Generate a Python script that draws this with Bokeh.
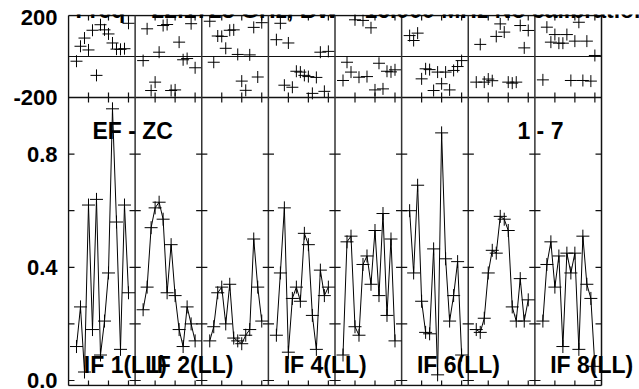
from bokeh.plotting import figure
from bokeh.models import Range1d, LinearAxis, FixedTicker, Label, ColumnDataSource
from bokeh.embed import file_html
from bokeh.resources import INLINE

# ---------------- data ----------------
channels = list(range(2, 16))
if_names = ["IF 1(LL)", "IF 2(LL)", "IF 3(LL)", "IF 4(LL)",
            "IF 5(LL)", "IF 6(LL)", "IF 7(LL)", "IF 8(LL)"]
labelled_ifs = [1, 2, 4, 6, 8]

phase_if1 = [-23, 50, 90, 32, 128, -92, 155, 130, 110, 66, 36, 35, 38, 162]
phase_if2 = [-20, 135, -166, -125, 21, 151, 156, -166, -163, 70, -16, -10, 160, -55]
phase_if3 = [172, -28, 100, 98, 40, 128, 130, 10, -120, -165, 8, 142, -100, 165]
phase_if4 = [82, 162, -140, 66, -150, -72, -76, -92, -98, -180, -102, 21, -170, 25]
phase_if5 = [-117, -28, -76, 179, -101, 176, -98, 140, -163, -33, -158, -72, -75, -65]
phase_if6 = [102, 78, 114, -109, -60, -64, -166, -76, -133, -76, -163, -68, -49, -20]
phase_if7 = [-125, 59, -125, -110, -118, 98, 159, 119, -125, -130, -125, 151, 42, 127]
phase_if8 = [-114, 143, 70, 107, 65, 65, 107, -117, 75, 167, -117, 75, -120, 5]

amp_if1 = [0.12, 0.26, 0.03, 0.62, 0.18, 0.64, 0.09, 0.21, 0.38, 0.96, 0.56, 0.11, 0.62, 0.31]
amp_if2 = [0.25, 0.33, 0.54, 0.61, 0.63, 0.57, 0.31, 0.48, 0.30, 0.18, 0.12, 0.26, 0.20, 0.14]
amp_if3 = [0.14, 0.19, 0.31, 0.33, 0.20, 0.34, 0.15, 0.14, 0.13, 0.16, 0.18, 0.50, 0.33, 0.21]
amp_if4 = [0.16, 0.38, 0.61, 0.10, 0.29, 0.33, 0.28, 0.52, 0.48, 0.23, 0.11, 0.39, 0.30, 0.33]
amp_if5 = [0.09, 0.49, 0.51, 0.19, 0.16, 0.41, 0.44, 0.34, 0.53, 0.30, 0.59, 0.23, 0.50, 0.14]
amp_if6 = [0.60, 0.38, 0.69, 0.28, 0.17, 0.165, 0.465, 0.02, 0.875, 0.43, 0.21, 0.30, 0.42, 0.09]
amp_if7 = [0.18, 0.17, 0.22, 0.38, 0.46, 0.45, 0.58, 0.57, 0.53, 0.26, 0.21, 0.36, 0.21, 0.285]
amp_if8 = [0.21, 0.41, 0.49, 0.33, 0.44, 0.12, 0.45, 0.38, 0.45, 0.11, 0.51, 0.34, 0.29, 0.05]

phases = [phase_if1, phase_if2, phase_if3, phase_if4, phase_if5, phase_if6, phase_if7, phase_if8]
amps = [amp_if1, amp_if2, amp_if3, amp_if4, amp_if5, amp_if6, amp_if7, amp_if8]

title_text = "Freq = 22.1725 GHz, BW = 16.000 MHz    No calibration"
baseline_text = "EF - ZC"
source_text = "1 - 7"
amp_tick_values = [0.0, 0.4, 0.8]
amp_tick_labels = ["0.0", "0.4", "0.8"]
amp_minor_values = [0.0, 0.2, 0.4, 0.6, 0.8]
phase_tick_labels = ["-200", "200"]
x_tick_channels = [5, 10, 15]

# ---------------- geometry ----------------
NPAN = len(if_names)
W = 16.66                  # channel units per IF panel
CPX = 4.0                  # pixels per channel
PX = 283.0                 # pixels per unit amplitude
AMP_LO = -5 / PX           # bottom edge of the plot box
AMP_HI = AMP_LO + 370 / PX # top edge of the plot box
XMAX = NPAN * W            # right edge of the plot box
K = 400.0 / (AMP_HI - 1.0) # degrees of phase per amplitude unit

# the drawing frame is one pixel larger than the box on left/top/bottom and
# runs on to the right edge of the window so that texts are not clipped
PAD = 1 / PX
X_LO = -1 / CPX
X_HI = XMAX + 38 / CPX
Y_LO = AMP_LO - PAD
Y_HI = AMP_HI + PAD
PH_HI = 200.0 + PAD * K
PH_LO = -200.0 - (1.0 - Y_LO) * K

FONT = "Liberation Sans"
INK = "#111111"

p = figure(width=631, height=397, output_backend="svg", toolbar_location=None,
           x_range=Range1d(X_LO, X_HI), y_range=Range1d(Y_LO, Y_HI),
           x_axis_location=None, y_axis_location=None,
           min_border_left=59, min_border_right=0, min_border_top=22,
           min_border_bottom=3, margin=(-8, 0, 0, 8))
p.extra_y_ranges = {"phase": Range1d(PH_LO, PH_HI)}
p.xgrid.visible = False
p.ygrid.visible = False
p.outline_line_color = None
p.background_fill_color = "white"
p.border_fill_color = "white"

# left axis: amplitude labels + phase labels
ph_label_pos = [1.0, AMP_HI - 2 / PX]
left_ticks = amp_tick_values + ph_label_pos
overrides = {}
for v, t in zip(amp_tick_values, amp_tick_labels):
    overrides[v] = t
for v, t in zip(ph_label_pos, phase_tick_labels):
    overrides[v] = t
lax = LinearAxis(ticker=FixedTicker(ticks=left_ticks, minor_ticks=[]),
                 major_label_overrides=overrides)
lax.axis_line_color = None
lax.major_tick_in = 0
lax.major_tick_out = 0
lax.minor_tick_line_color = None
lax.major_label_standoff = 10
lax.major_label_text_font = FONT
lax.major_label_text_font_style = "bold"
lax.major_label_text_font_size = "22px"
lax.major_label_text_color = "black"
p.add_layout(lax, "left")

# plot box
p.segment(x0=[0, XMAX, 0, 0, 0], y0=[AMP_LO, AMP_LO, AMP_LO, AMP_HI, 1.0],
          x1=[0, XMAX, XMAX, XMAX, XMAX], y1=[AMP_HI, AMP_HI, AMP_LO, AMP_HI, 1.0],
          line_color=INK, line_width=1.5)
# phase zero line
p.segment(x0=[0], y0=[0], x1=[XMAX], y1=[0], line_color=INK, line_width=1.2,
          y_range_name="phase")

# amplitude ticks on left and right edges
rt = 6 / CPX
m = len(amp_minor_values)
p.segment(x0=[0] * m + [XMAX - rt] * m, y0=amp_minor_values * 2,
          x1=[rt] * m + [XMAX] * m, y1=amp_minor_values * 2,
          line_color=INK, line_width=1.2)

# x ticks on bottom, top and across the phase/amplitude boundary
xticks = [k * W + c for k in range(NPAN) for c in x_tick_channels]
h = 5 / PX
n = len(xticks)
p.segment(x0=xticks, y0=[AMP_LO] * n, x1=xticks, y1=[AMP_LO + h] * n,
          line_color=INK, line_width=1.2)
p.segment(x0=xticks, y0=[AMP_HI - h] * n, x1=xticks, y1=[AMP_HI] * n,
          line_color=INK, line_width=1.2)
p.segment(x0=xticks, y0=[1.0 - h] * n, x1=xticks, y1=[1.0 + h] * n,
          line_color=INK, line_width=1.2)

# IF dividers
div_x = [k * W for k in range(1, NPAN)]
p.segment(x0=div_x, y0=[AMP_LO] * len(div_x), x1=div_x, y1=[AMP_HI] * len(div_x),
          line_color="#333333", line_width=1.5)

# ticks crossing the dividers
tx0, tx1, ty = [], [], []
for d in div_x:
    for a in amp_minor_values:
        tx0.append(d - 1.4)
        tx1.append(d + 1.4)
        ty.append(a)
p.segment(x0=tx0, y0=ty, x1=tx1, y1=ty, line_color=INK, line_width=1.2)

# data
for k in range(NPAN):
    xs = [k * W + c for c in channels]
    src = ColumnDataSource(dict(x=xs, amp=amps[k], ph=phases[k]))
    p.line("x", "amp", source=src, line_color="black", line_width=1)
    p.scatter("x", "amp", source=src, marker="cross", size=13,
              line_color="black", line_width=1)
    p.scatter("x", "ph", source=src, marker="cross", size=12,
              line_color="black", line_width=1, y_range_name="phase")

# text annotations
def add_text(x, y, text):
    p.add_layout(Label(x=x, y=y, text=text, text_font=FONT,
                       text_font_style="bold", text_font_size="23px",
                       text_baseline="alphabetic", text_align="left",
                       text_color="black"))

for i in labelled_ifs:
    add_text((i - 1) * W + 3.83, 0.0565, if_names[i - 1])

add_text(6.0, 0.882, baseline_text)
add_text(112.25, 0.882, source_text)
add_text(1.75, (380 - 9) / PX, title_text)

open("out.html", "w").write(file_html(p, INLINE))
